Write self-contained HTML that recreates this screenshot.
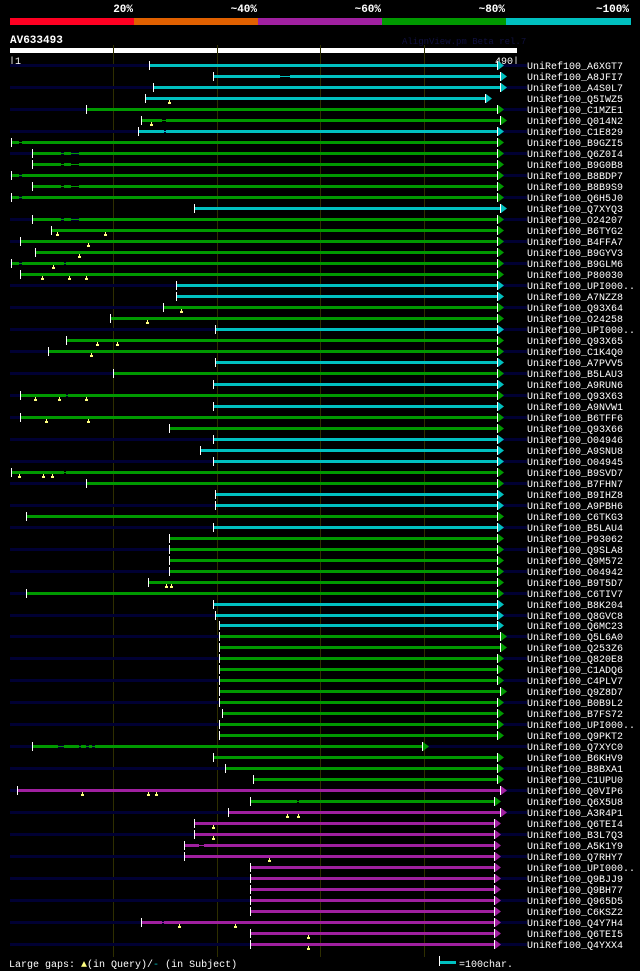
<!DOCTYPE html>
<html><head><meta charset="utf-8"><style>
html,body{margin:0;padding:0;background:#000;}
svg{display:block;font-family:"Liberation Mono",monospace;}
</style></head><body>
<svg id="chart" width="640" height="971" viewBox="0 0 640 971" shape-rendering="crispEdges">
<rect width="640" height="971" fill="#000"/>
<g>
<text x="133" y="12" text-anchor="end" fill="#fff" font-size="11" font-weight="bold">20%</text>
<text x="257" y="12" text-anchor="end" fill="#fff" font-size="11" font-weight="bold">~40%</text>
<text x="381" y="12" text-anchor="end" fill="#fff" font-size="11" font-weight="bold">~60%</text>
<text x="505" y="12" text-anchor="end" fill="#fff" font-size="11" font-weight="bold">~80%</text>
<text x="629" y="12" text-anchor="end" fill="#fff" font-size="11" font-weight="bold">~100%</text>
<rect x="10" y="18" width="124" height="7" fill="#ff0022"/>
<rect x="134" y="18" width="124" height="7" fill="#e06000"/>
<rect x="258" y="18" width="124" height="7" fill="#a020a0"/>
<rect x="382" y="18" width="124" height="7" fill="#009900"/>
<rect x="506" y="18" width="125" height="7" fill="#00c0c0"/>
</g>
<text x="10" y="43" fill="#fff" font-size="11" font-weight="bold">AV633493</text>
<text x="402" y="44" fill="#101040" font-size="9">AlignView.pm Beta rel.7</text>
<rect x="10" y="48" width="507" height="5" fill="#fff"/>
<text x="9" y="64" fill="#fff" font-size="10">|1</text>
<text x="519" y="64" text-anchor="end" fill="#fff" font-size="10">490|</text>
<g id="grid"></g>
<g id="rows"></g>
<g>
<text x="9" y="967" fill="#fff" font-size="10">Large gaps: <tspan fill="#ffff80">▲</tspan>(in Query)/<tspan fill="#00c0c0">-</tspan> (in Subject)</text>
<rect x="439" y="956" width="1" height="10" fill="#fff"/>
<rect x="440" y="961" width="16" height="3" fill="#00c0c0"/>
<text x="459" y="967" fill="#fff" font-size="10">=100char.</text>
</g>
</svg>
<script>
const gridTicks = [100, 200, 300, 400];
const names = ["A6XGT7","A8JFI7","A4S0L7","Q5IWZ5","C1MZE1","Q014N2","C1E829","B9GZI5","Q6Z0I4","B9G0B8","B8BDP7","B8B9S9","Q6H5J0","Q7XYQ3","O24207","B6TYG2","B4FFA7","B9GYV3","B9GLM6","P80030","UPI000..","A7NZZ8","Q93X64","O24258","UPI000..","Q93X65","C1K4Q0","A7PVV5","B5LAU3","A9RUN6","Q93X63","A9NVW1","B6TFF6","Q93X66","O04946","A9SNU8","O04945","B9SVD7","B7FHN7","B9IHZ8","A9PBH6","C6TKG3","B5LAU4","P93062","Q9SLA8","Q9M572","O04942","B9T5D7","C6TIV7","B8K204","Q8GVC8","Q6MC23","Q5L6A0","Q253Z6","Q820E8","C1ADQ6","C4PLV7","Q9Z8D7","B0B9L2","B7FS72","UPI000..","Q9PKT2","Q7XYC0","B6KHV9","B8BXA1","C1UPU0","Q0VIP6","Q6X5U8","A3R4P1","Q6TEI4","B3L7Q3","A5K1Y9","Q7RHY7","UPI000..","Q9BJJ9","Q9BH77","Q965D5","C6KSZ2","Q4Y7H4","Q6TEI5","Q4YXX4"];
const identityClass = ["c","c","c","c","g","g","c","g","g","g",
 "g","g","g","c","g","g","g","g","g","g",
 "c","c","g","g","c","g","g","c","g","c",
 "g","c","g","g","c","c","c","g","g","c",
 "c","g","c","g","g","g","g","g","g","c",
 "c","c","g","g","g","g","g","g","g","g",
 "g","g","g","g","g","g","m","g","m","m",
 "m","m","m","m","m","m","m","m","m","m","m"];
const starts = [134,196,138,130,73,127,124,1,21,21,1,21,1,178,21,40,10,24,1,10,160,160,148,97,198,54,37,198,100,196,10,196,10,154,196,184,196,1,73,198,198,15,196,154,154,154,154,133,15,196,198,202,202,202,202,202,202,202,202,205,202,202,21,196,208,235,7,232,211,178,178,168,168,232,232,232,232,232,127,232,232];
const ends = [471,474,474,459,471,474,471,471,471,471,471,471,471,474,471,471,471,471,471,471,471,471,471,471,471,471,471,471,471,471,471,471,471,471,471,471,471,471,471,471,471,471,471,471,471,471,471,471,471,471,471,471,474,474,471,471,471,474,471,471,471,471,398,471,471,471,474,468,474,468,468,468,468,468,468,468,468,468,468,468,468];
const subjectGaps = {1:[[261,271]],5:[[147,151]],6:[[149,151]],7:[[9,12]],8:[[49,52],[59,67]],9:[[49,52],[59,67]],10:[[9,12]],11:[[49,52],[59,67]],12:[[9,12]],14:[[49,52],[59,67]],18:[[9,12],[52,54]],30:[[54,56]],37:[[52,54]],62:[[46,52],[67,69],[73,76],[79,82]],67:[[277,279]],71:[[183,187]],78:[[147,149]]};
const queryGaps = {3:[154],5:[136],15:[45,92],16:[75],17:[67],18:[42],19:[31,57,73],22:[165],23:[132],25:[84,103],26:[78],30:[24,47,73],32:[35,75],37:[9,32,41],47:[151,156],66:[70,133,141],68:[268,278],69:[196],70:[196],72:[250],78:[163,217],79:[288],80:[288]};
const colors = {c:"#00c0c0", g:"#009900", m:"#a020a0"};
const NS = "http://www.w3.org/2000/svg";
const xScale = p => 10 + p * 506 / 489;
const yScale = i => 65 + i * 10.99;
function mk(tag, attrs, parent){const e=document.createElementNS(NS,tag);for(const k in attrs)e.setAttribute(k,attrs[k]);parent.appendChild(e);return e;}
const grid = document.getElementById('grid');
gridTicks.forEach(t => {
  const l = mk('rect', {x: Math.round(xScale(t)), y: 45, width: 1, height: 912, fill: '#2e2e00'}, grid);
  
  
});
const rows = document.getElementById('rows');
names.forEach((nm, i) => {
  const y = Math.round(yScale(i));
  const g = mk('g', {}, rows);
  
  
  if (i % 2 === 0) {
    const s = mk('rect', {x: 10, y: y - 1, width: 517, height: 3, fill: '#000033'}, g);
    
    
  }
  const col = colors[identityClass[i]];
  const x0 = Math.round(xScale(starts[i])), x1 = Math.round(xScale(ends[i]));
  const gaps = subjectGaps[i] || [];
  let segs = []; let cur = starts[i];
  gaps.forEach(gp => { segs.push([cur, gp[0]]); cur = gp[1]; });
  segs.push([cur, ends[i]]);
  segs.forEach(sg => {
    const a = Math.round(xScale(sg[0])), b = Math.round(xScale(sg[1]));
    const r = mk('rect', {x: a, y: y - 1, width: Math.max(1, b - a), height: 3, fill: col}, g);
    
    
  });
  gaps.forEach(gp => {
    const a = Math.round(xScale(gp[0])), b = Math.round(xScale(gp[1]));
    const r = mk('rect', {x: a, y: y, width: b - a, height: 1, fill: col}, g);
    
    
  });
  const t = mk('rect', {x: x0, y: y - 4, width: 1, height: 9, fill: '#fff'}, g);
  
  
  const te = mk('rect', {x: x1, y: y - 4, width: 1, height: 9, fill: '#fff'}, g);
  
  
  const ar = mk('polygon', {points: `${x1+1},${y-4} ${x1+7},${y+0.5} ${x1+1},${y+5}`, fill: col, 'shape-rendering': 'auto'}, g);
  
  
  (queryGaps[i] || []).forEach(p => {
    const mx = Math.round(xScale(p));
    const m1 = mk('rect', {x: mx, y: y + 2, width: 1, height: 3, fill: '#ffff80'}, g);
    
    
    const m2 = mk('rect', {x: mx - 1, y: y + 4, width: 3, height: 2, fill: '#ffff80'}, g);
    
    
  });
  const tx = mk('text', {x: 527, y: y + 4, fill: '#fff', 'font-size': 10}, g);
  
  
  tx.textContent = 'UniRef100_' + nm;
});
</script>
</body></html>
